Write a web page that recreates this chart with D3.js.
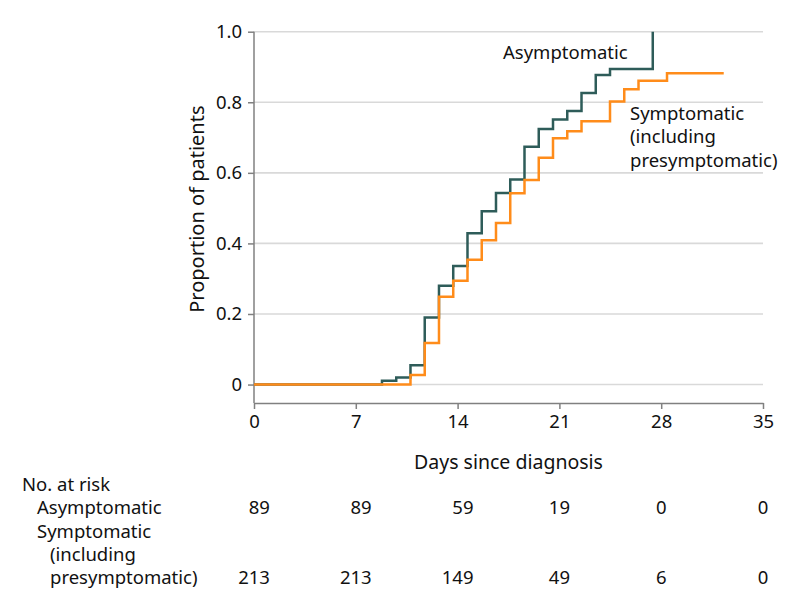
<!DOCTYPE html>
<html>
<head>
<meta charset="utf-8">
<script src="https://cdn.jsdelivr.net/npm/d3@7"></script>
<style>
  html, body { margin: 0; padding: 0; background: #fff; }
  svg { display: block; }
  text { font-family: "Noto Sans", sans-serif; font-size: 18.5px; fill: #111; }
</style>
</head>
<body>
<svg id="chart" width="794" height="609"></svg>
<script>
// ---- Data ----
const xTicks = [0, 7, 14, 21, 28, 35];
const yTicks = [0, 0.2, 0.4, 0.6, 0.8, 1.0];

const asymTimes  = [0, 8.80, 9.78, 10.76, 11.74, 12.72, 13.70, 14.68, 15.66, 16.64, 17.62, 18.60, 19.58, 20.56, 21.54, 22.52, 23.50, 24.48, 27.42];
const asymValues = [0, 0.011, 0.020, 0.055, 0.190, 0.280, 0.336, 0.429, 0.491, 0.543, 0.581, 0.674, 0.724, 0.751, 0.775, 0.826, 0.877, 0.894, 1.0];

const symTimes  = [0, 10.76, 11.74, 12.72, 13.70, 14.68, 15.66, 16.64, 17.62, 18.60, 19.58, 20.56, 21.54, 22.52, 24.48, 25.46, 26.44, 28.40, 32.30];
const symValues = [0, 0.027, 0.118, 0.249, 0.294, 0.354, 0.409, 0.458, 0.542, 0.580, 0.643, 0.698, 0.718, 0.746, 0.802, 0.837, 0.861, 0.882, 0.882];

const riskLabels = ["Asymptomatic", "Symptomatic"];
const riskAsym = ["89", "89", "59", "19", "0", "0"];
const riskSym  = ["213", "213", "149", "49", "6", "0"];

// ---- Layout ----
const svg = d3.select("#chart");
const x = d3.scaleLinear().domain([0, 35]).range([254, 763]);
const y = d3.scaleLinear().domain([-0.05, 1.0]).range([402.2, 31.7]);
const axisColor = "#808080";

// gridlines
svg.append("g").selectAll("line").data(yTicks).join("line")
  .attr("x1", x(0)).attr("x2", x(35))
  .attr("y1", d => y(d)).attr("y2", d => y(d))
  .attr("stroke", "#d9d9d9").attr("stroke-width", 1.6);

// y axis
const yAxis = svg.append("g").attr("transform", `translate(${x(0)},0)`)
  .call(d3.axisLeft(y).tickValues(yTicks).tickSize(6).tickPadding(6)
    .tickFormat(d => d === 0 ? "0" : d3.format(".1f")(d)));
yAxis.select(".domain").attr("d", `M0,${y(1)}V${y(-0.05) + 0.8}`);

// x axis
const xAxis = svg.append("g").attr("transform", `translate(0,${y(-0.05) + 0.8})`)
  .call(d3.axisBottom(x).tickValues(xTicks).tickSize(6).tickPadding(6).tickSizeOuter(0));

[yAxis, xAxis].forEach(g => {
  g.selectAll(".domain").attr("stroke", axisColor).attr("stroke-width", 1.5);
  g.selectAll(".tick line").attr("stroke", axisColor).attr("stroke-width", 1.5);
  g.selectAll(".tick text").attr("font-family", '"Noto Sans", sans-serif')
    .attr("font-size", 18.5).attr("fill", "#111");
});

// axis titles
svg.append("text").attr("x", (x(0) + x(35)) / 2).attr("y", 469)
  .attr("text-anchor", "middle").style("font-size", "19.5px").text("Days since diagnosis");
svg.append("text")
  .attr("transform", `translate(204,${(y(0) + y(1)) / 2 + 1}) rotate(-90)`)
  .attr("text-anchor", "middle").style("font-size", "20px").text("Proportion of patients");

// step curves
const line = d3.line().x(d => x(d[0])).y(d => y(d[1])).curve(d3.curveStepAfter);
const asymData = asymTimes.map((t, i) => [t, asymValues[i]]);
const symData = symTimes.map((t, i) => [t, symValues[i]]);

svg.append("path").datum(asymData).attr("d", line)
  .attr("fill", "none").attr("stroke", "#2e5c59").attr("stroke-width", 2.5);
svg.append("path").datum(symData).attr("d", line)
  .attr("fill", "none").attr("stroke", "#ff8c1a").attr("stroke-width", 2.5);

// series labels
svg.append("text").attr("x", 503).attr("y", 59).text("Asymptomatic");
const symLab = svg.append("text").attr("x", 630).attr("y", 120);
symLab.append("tspan").attr("x", 630).attr("dy", 0).text("Symptomatic");
symLab.append("tspan").attr("x", 630).attr("dy", 23.3).text("(including");
symLab.append("tspan").attr("x", 630).attr("dy", 23.3).text("presymptomatic)");

// number at risk table
const rowY = [491, 514, 537.5, 561, 584];
svg.append("text").attr("x", 22).attr("y", rowY[0]).text("No. at risk");
svg.append("text").attr("x", 37).attr("y", rowY[1]).text(riskLabels[0]);
svg.append("text").attr("x", 37).attr("y", rowY[2]).text(riskLabels[1]);
svg.append("text").attr("x", 50).attr("y", rowY[3]).text("(including");
svg.append("text").attr("x", 50).attr("y", rowY[4]).text("presymptomatic)");

xTicks.forEach((t, i) => {
  const a = svg.append("text").attr("y", rowY[1]).attr("text-anchor", "end").text(riskAsym[i]);
  const s = svg.append("text").attr("y", rowY[4]).attr("text-anchor", "end").text(riskSym[i]);
  const w = Math.max(a.node().getComputedTextLength(), s.node().getComputedTextLength());
  a.attr("x", x(t) + w / 2);
  s.attr("x", x(t) + w / 2);
});
</script>
</body>
</html>
